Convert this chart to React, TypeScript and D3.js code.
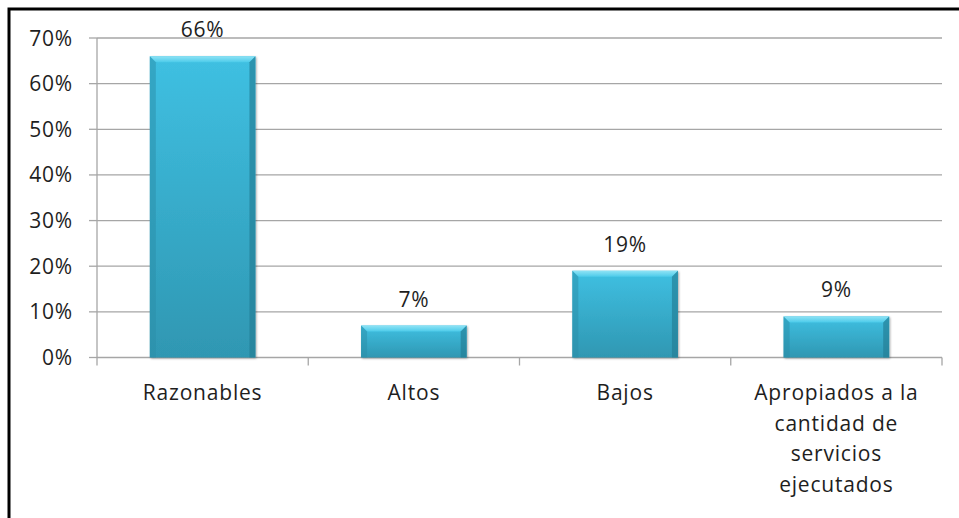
import React from "react";
import * as d3 from "d3";

const categories: string[][] = [
  ["Razonables"],
  ["Altos"],
  ["Bajos"],
  ["Apropiados a la", "cantidad de", "servicios", "ejecutados"],
];
const values: number[] = [0.66, 0.07, 0.19, 0.09];
const valueLabels: string[] = ["66%", "7%", "19%", "9%"];
const yTicks: number[] = [0, 0.1, 0.2, 0.3, 0.4, 0.5, 0.6, 0.7];

const W = 959;
const H = 518;
const FONT = "'Open Sans', sans-serif";
const FS = 21;
const LS = 0.8;

export default function App() {
  const left = 97, right = 942, top = 38, bottom = 357.5;
  const x = d3.scaleBand<number>().domain(d3.range(categories.length)).range([left, right]).paddingInner(0.5).paddingOuter(0.25);
  const xb = d3.scaleBand<number>().domain(d3.range(categories.length)).range([left, right]);
  const y = d3.scaleLinear().domain([0, 0.7]).range([bottom, top]);
  const bw = x.bandwidth();
  const bev = 6;

  return (
    <svg width={W} height={H} style={{ position: "absolute", left: 0, top: 0, background: "#fff" }} fontFamily={FONT} letterSpacing={LS}>
      <defs>
        <linearGradient id="barG" x1="0" y1="0" x2="0" y2="1">
          <stop offset="0" stopColor="#3fc0e2" />
          <stop offset="1" stopColor="#2f97b2" />
        </linearGradient>
        <linearGradient id="topBev" x1="0" y1="0" x2="0" y2="1">
          <stop offset="0" stopColor="#8fe3f5" />
          <stop offset="1" stopColor="#4ccbea" />
        </linearGradient>
        <filter id="sh" x="-10%" y="-10%" width="130%" height="130%">
          <feDropShadow dx="1" dy="1" stdDeviation="1.2" floodColor="#000" floodOpacity="0.35" />
        </filter>
      </defs>
      <rect x={9} y={9} width={W + 20} height={H + 20} fill="#fff" stroke="#000" strokeWidth={3} />
      {yTicks.map((t) => (
        <g key={t}>
          {t > 0 && <line x1={left} x2={right} y1={y(t)} y2={y(t)} stroke="#a6a6a6" strokeWidth={1.3} />}
          <line x1={left - 8} x2={left} y1={y(t)} y2={y(t)} stroke="#a6a6a6" strokeWidth={1.3} />
          <text x={73} y={y(t)} dy="0.36em" textAnchor="end" fontSize={FS} fill="#1e1e1e">
            {`${Math.round(t * 100)}%`}
          </text>
        </g>
      ))}
      <line x1={left} x2={left} y1={top} y2={bottom} stroke="#a6a6a6" strokeWidth={1.3} />
      <line x1={left} x2={right} y1={bottom} y2={bottom} stroke="#a6a6a6" strokeWidth={1.3} />
      {d3.range(categories.length + 1).map((i) => {
        const xx = i < categories.length ? (xb(i) as number) : right;
        return <line key={i} x1={xx} x2={xx} y1={bottom} y2={bottom + 8} stroke="#a6a6a6" strokeWidth={1.3} />;
      })}
      {values.map((v, i) => {
        const x0 = x(i) as number;
        const x1 = x0 + bw;
        const y0 = y(v);
        const y1 = y(0);
        return (
          <g key={i}>
            <rect x={x0} y={y0} width={bw} height={y1 - y0} fill="url(#barG)" filter="url(#sh)" />
            <polygon points={`${x0},${y0} ${x1},${y0} ${x1 - bev},${y0 + bev} ${x0 + bev},${y0 + bev}`} fill="url(#topBev)" />
            <polygon points={`${x0},${y0} ${x0 + bev},${y0 + bev} ${x0 + bev},${y1} ${x0},${y1}`} fill="#2a8ea8" opacity={0.5} />
            <polygon points={`${x1},${y0} ${x1 - bev},${y0 + bev} ${x1 - bev},${y1} ${x1},${y1}`} fill="#237c93" opacity={0.65} />
            <text x={x0 + bw / 2} y={y0 - 19} textAnchor="middle" fontSize={FS} fill="#1e1e1e">
              {valueLabels[i]}
            </text>
          </g>
        );
      })}
      {categories.map((lines, i) => (
        <text key={i} textAnchor="middle" fontSize={FS} fill="#1e1e1e">
          {lines.map((l, j) => (
            <tspan key={j} x={(xb(i) as number) + xb.bandwidth() / 2} y={400 + j * 30.7}>
              {l}
            </tspan>
          ))}
        </text>
      ))}
    </svg>
  );
}
